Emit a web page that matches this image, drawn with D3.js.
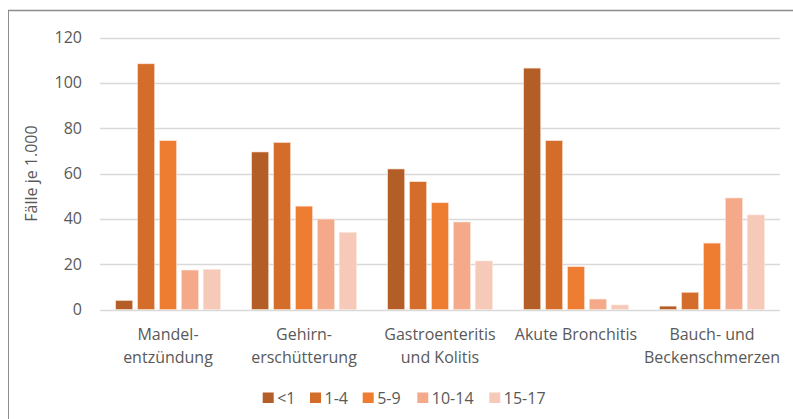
<!DOCTYPE html>
<html><head><meta charset="utf-8">
<script src="https://cdn.jsdelivr.net/npm/d3@7"></script>
<style>
html,body{margin:0;padding:0;background:#fff;}
svg{display:block;font-family:"Open Sans",sans-serif;}
</style></head>
<body><svg id="c" width="793" height="419"></svg>
<script>
const categories = [["Mandel-","entzündung"],["Gehirn-","erschütterung"],["Gastroenteritis","und Kolitis"],["Akute Bronchitis"],["Bauch- und","Beckenschmerzen"]];
const seriesNames = ["<1","1-4","5-9","10-14","15-17"];
const colors = ["#B35E27","#D46D29","#EE7D31","#F3A98A","#F7C9B9"];
const values = [
  [4, 69.5, 62, 106.5, 1.5],     // <1
  [108.4, 73.7, 56.4, 74.5, 7.6], // 1-4
  [74.5, 45.6, 47.1, 18.9, 29.3], // 5-9
  [17.4, 39.9, 38.6, 4.6, 49.2],  // 10-14
  [17.7, 34, 21.4, 2.0, 41.7]     // 15-17
];
const yTicks = [0,20,40,60,80,100,120];
const yTitle = "Fälle je 1.000";

(function(){
const svg = d3.select("#c");
const pL = 100, pR = 780, pT = 37.5, pB = 309.5;
const FONT = "'Open Sans',sans-serif";
const FS = 16;
// frame
svg.append("line").attr("x1",8).attr("x2",793).attr("y1",10.5).attr("y2",10.5).attr("stroke","#8c8c8c").attr("stroke-width",1.5);
svg.append("line").attr("x1",8.5).attr("x2",8.5).attr("y1",10).attr("y2",419).attr("stroke","#8c8c8c").attr("stroke-width",1);

const y = d3.scaleLinear().domain([0,120]).range([pB, pT]);
const x0 = d3.scaleBand().domain(d3.range(categories.length)).range([pL,pR]).paddingInner(0.23).paddingOuter(0.115);
const x1 = d3.scaleBand().domain(d3.range(seriesNames.length)).range([0,x0.bandwidth()]).paddingInner(0.22);

// grid
svg.append("g").selectAll("line").data(yTicks).join("line")
  .attr("x1",pL).attr("x2",pR).attr("y1",d=>Math.round(y(d))+0.5).attr("y2",d=>Math.round(y(d))+0.5)
  .attr("stroke","#d9d9d9").attr("stroke-width",1.5);

// y tick labels
const yAxis = d3.axisLeft(y).tickValues(yTicks).tickSize(0).tickPadding(0);
const ya = svg.append("g").attr("transform",`translate(${pL-18},0)`).call(yAxis);
ya.select(".domain").remove();
ya.selectAll("text").attr("font-size",FS).attr("fill","#595959").attr("font-family",FONT);

// y title
svg.append("text").attr("transform",`translate(37,${(pT+pB)/2}) rotate(-90)`)
  .attr("text-anchor","middle").attr("font-size",FS).attr("fill","#595959").text(yTitle);

// bars
seriesNames.forEach((s,si)=>{
  svg.append("g").selectAll("rect").data(values[si]).join("rect")
    .attr("x",(d,i)=>x0(i)+x1(si)).attr("width",x1.bandwidth())
    .attr("y",d=>y(d)).attr("height",d=>y(0)-y(d))
    .attr("fill",colors[si]).attr("stroke","#fbe4d9").attr("stroke-width",0.6);
});

// category labels
categories.forEach((lines,i)=>{
  const t = svg.append("text").attr("text-anchor","middle").attr("font-size",FS).attr("fill","#595959");
  lines.forEach((l,j)=>{
    t.append("tspan").attr("x",x0(i)+x0.bandwidth()/2).attr("y",339.5+j*23).text(l);
  });
});

// legend
const lx = [262.7,310,362.7,417.3,489.3];
const lg = svg.append("g");
seriesNames.forEach((s,i)=>{
  lg.append("rect").attr("x",lx[i]).attr("y",392.5).attr("width",11).attr("height",10.5).attr("fill",colors[i]);
  lg.append("text").attr("x",lx[i]+14.5).attr("y",403.5).attr("font-size",FS).attr("fill","#595959").text(s);
});
})();
</script></body></html>
